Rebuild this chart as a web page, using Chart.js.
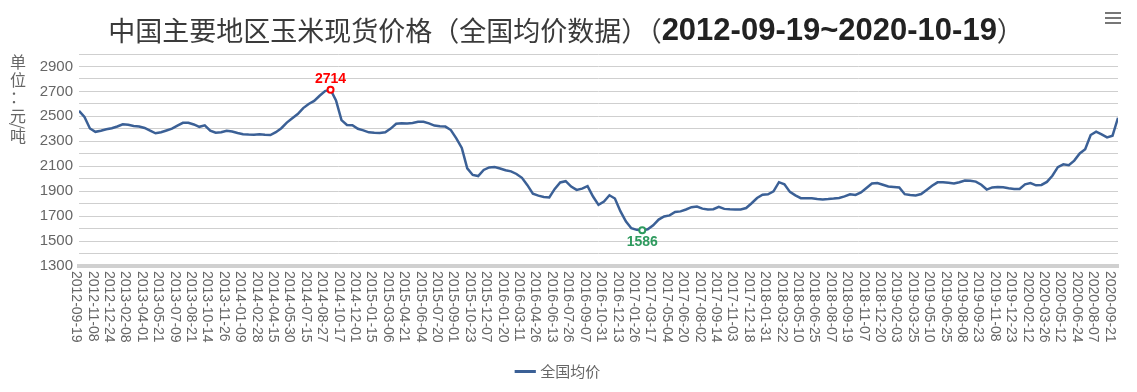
<!DOCTYPE html>
<html>
<head>
<meta charset="utf-8">
<script src="https://cdn.jsdelivr.net/npm/chart.js@4.4.1/dist/chart.umd.min.js"></script>
<style>
  html, body { margin: 0; padding: 0; background: #fff; }
  #wrap { width: 1137px; height: 392px; }
</style>
</head>
<body>
<div id="wrap"><canvas id="chart"></canvas></div>
<script>
const titleMain = '中国主要地区玉米现货价格（全国均价数据）（';
const titleDates = '2012-09-19~2020-10-19';
const titleEnd = '）';
const seriesName = '全国均价';
const yUnit = ['单', '位', '：', '元', '/', '吨'];

// one tick label every 3 samples
const pointsPerTick = 3;
const tickDates = [
  '2012-09-19', '2012-11-08', '2012-12-24', '2013-02-08', '2013-04-01', '2013-05-21',
  '2013-07-09', '2013-08-21', '2013-10-14', '2013-11-26', '2014-01-09', '2014-02-28',
  '2014-04-15', '2014-05-30', '2014-07-15', '2014-08-27', '2014-10-17', '2014-12-01',
  '2015-01-15', '2015-03-06', '2015-04-21', '2015-06-04', '2015-07-20', '2015-09-01',
  '2015-10-23', '2015-12-07', '2016-01-20', '2016-03-11', '2016-04-26', '2016-06-13',
  '2016-07-26', '2016-09-07', '2016-10-31', '2016-12-13', '2017-01-26', '2017-03-17',
  '2017-05-04', '2017-06-20', '2017-08-02', '2017-09-14', '2017-11-03', '2017-12-18',
  '2018-01-31', '2018-03-22', '2018-05-10', '2018-06-25', '2018-08-07', '2018-09-19',
  '2018-11-07', '2018-12-20', '2019-02-03', '2019-03-25', '2019-05-10', '2019-06-25',
  '2019-08-08', '2019-09-23', '2019-11-08', '2019-12-23', '2020-02-12', '2020-03-26',
  '2020-05-12', '2020-06-24', '2020-08-07', '2020-09-21'
];

const prices = [
  2545, 2495, 2403, 2376, 2385, 2396, 2405, 2419, 2436, 2432,
  2423, 2419, 2407, 2385, 2364, 2373, 2387, 2402, 2426, 2448,
  2449, 2435, 2416, 2428, 2386, 2369, 2372, 2384, 2379, 2367,
  2357, 2354, 2353, 2356, 2352, 2350, 2373, 2405, 2450, 2484,
  2518, 2566, 2599, 2624, 2665, 2702, 2714, 2627, 2470, 2431,
  2429, 2400, 2388, 2372, 2368, 2367, 2373, 2402, 2441, 2445,
  2443, 2447, 2456, 2456, 2444, 2426, 2420, 2418, 2390, 2323,
  2247, 2083, 2030, 2021, 2070, 2090, 2093, 2082, 2068, 2059,
  2038, 2007, 1948, 1880, 1864, 1854, 1850, 1918, 1970, 1980,
  1937, 1910, 1920, 1940, 1857, 1790, 1817, 1867, 1841, 1740,
  1658, 1603, 1590, 1586, 1594, 1626, 1672, 1697, 1706, 1733,
  1738, 1753, 1772, 1777, 1760, 1753, 1755, 1775, 1758, 1755,
  1754, 1754, 1765, 1803, 1845, 1871, 1875, 1898, 1972, 1955,
  1894, 1866, 1844, 1844, 1843, 1838, 1834, 1837, 1841, 1846,
  1858, 1875, 1870, 1890, 1926, 1961, 1966, 1952, 1938, 1934,
  1930, 1876, 1870, 1865, 1877, 1910, 1943, 1971, 1972, 1967,
  1962, 1972, 1985, 1984, 1977, 1952, 1913, 1930, 1934, 1931,
  1924, 1918, 1918, 1955, 1965, 1947, 1950, 1974, 2024, 2093,
  2115, 2108, 2145, 2203, 2236, 2350, 2377, 2355, 2331, 2345,
  2488
];

const yMin = 1300, yMax = 3000, yStep = 100;

const lineColor = '#3b6096';
const maxColor = '#ff0000';
const minColor = '#2e9a5e';

const maxIdx = prices.indexOf(Math.max(...prices));
const minIdx = prices.indexOf(Math.min(...prices));

Chart.defaults.font.family = '"Liberation Sans", "Noto Sans CJK SC", sans-serif';

const decor = {
  id: 'decor',
  afterDraw(chart) {
    const ctx = chart.ctx;
    const xs = chart.scales.x;
    ctx.save();

    // title, two fonts
    const f1 = '27px "Noto Sans CJK SC", sans-serif';
    const f2 = 'bold 31px "Liberation Sans", sans-serif';
    ctx.textBaseline = 'middle';
    ctx.font = f1;
    const w1 = ctx.measureText(titleMain).width;
    const w3 = ctx.measureText(titleEnd).width;
    ctx.font = f2;
    const w2 = ctx.measureText(titleDates).width;
    let tx = 566 - (w1 + w2 + w3) / 2;
    const ty = 31;
    ctx.textAlign = 'left';
    ctx.font = f1; ctx.fillStyle = '#3a3a3a';
    ctx.fillText(titleMain, tx, ty); tx += w1;
    ctx.font = f2; ctx.fillStyle = '#222';
    ctx.fillText(titleDates, tx, ty); tx += w2;
    ctx.font = f1; ctx.fillStyle = '#3a3a3a';
    ctx.fillText(titleEnd, tx, ty);

    // menu icon
    ctx.strokeStyle = '#777';
    ctx.lineWidth = 2;
    [13, 18, 23].forEach(y => {
      ctx.beginPath(); ctx.moveTo(1105, y); ctx.lineTo(1121, y); ctx.stroke();
    });

    // unit label, stacked
    ctx.fillStyle = '#666';
    ctx.font = '16px "Noto Sans CJK SC", sans-serif';
    ctx.textAlign = 'center';
    const uy = [62, 80, 97, 116, 126, 136];
    yUnit.forEach((c, i) => {
      if (c === '/') {
        ctx.save(); ctx.translate(18, uy[i]); ctx.rotate(Math.PI / 2);
        ctx.fillText(c, 0, 0); ctx.restore();
      } else {
        ctx.fillText(c, 18, uy[i]);
      }
    });

    // x tick labels, reading downward
    ctx.font = '14px "Liberation Sans", sans-serif';
    ctx.textAlign = 'left';
    ctx.fillStyle = '#666';
    tickDates.forEach((d, k) => {
      const x = xs.getPixelForValue(k * pointsPerTick) - 3;
      ctx.save();
      ctx.translate(x, 271);
      ctx.rotate(Math.PI / 2);
      ctx.fillText(d, 0, 0);
      ctx.restore();
    });

    // max / min labels
    const pts = chart.getDatasetMeta(0).data;
    ctx.font = 'bold 14px "Liberation Sans", sans-serif';
    ctx.textAlign = 'center';
    ctx.fillStyle = maxColor;
    ctx.fillText(String(prices[maxIdx]), pts[maxIdx].x, pts[maxIdx].y - 11);
    ctx.fillStyle = minColor;
    ctx.fillText(String(prices[minIdx]), pts[minIdx].x, pts[minIdx].y + 12);

    ctx.restore();
  }
};

new Chart(document.getElementById('chart'), {
  type: 'line',
  data: {
    datasets: [{
      label: seriesName,
      data: prices.map((v, i) => ({ x: i, y: v })),
      borderColor: lineColor,
      backgroundColor: lineColor,
      borderWidth: 2.5,
      tension: 0,
      fill: false,
      pointRadius: c => (c.dataIndex === maxIdx || c.dataIndex === minIdx) ? 3 : 0,
      pointHoverRadius: 0,
      pointBorderWidth: 2,
      pointBorderColor: c => c.dataIndex === maxIdx ? maxColor : (c.dataIndex === minIdx ? minColor : lineColor),
      pointBackgroundColor: '#fff'
    }]
  },
  options: {
    responsive: true,
    maintainAspectRatio: false,
    animation: false,
    layout: { padding: { left: 0, right: 19, top: 54, bottom: 3 } },
    plugins: {
      title: { display: false },
      tooltip: { enabled: false },
      legend: {
        position: 'bottom',
        labels: {
          usePointStyle: true,
          pointStyle: 'line',
          color: '#666',
          font: { size: 15, family: '"Noto Sans CJK SC", sans-serif' },
          padding: 10,
          generateLabels: chart => [{
            text: seriesName,
            strokeStyle: lineColor,
            fillStyle: lineColor,
            lineWidth: 3,
            pointStyle: 'line',
            fontColor: '#666',
            datasetIndex: 0,
            hidden: false
          }]
        }
      }
    },
    scales: {
      x: {
        type: 'linear',
        min: 0,
        max: prices.length - 1,
        ticks: { display: false },
        grid: { display: false },
        border: { display: true, color: '#d0d0d0', width: 4 },
        afterFit: s => { s.height = 88; }
      },
      y: {
        min: yMin,
        max: yMax,
        ticks: {
          stepSize: yStep,
          autoSkip: false,
          color: '#666',
          font: { size: 15 },
          padding: 6,
          callback: v => (v % 200 === 100 ? v : '')
        },
        grid: { color: '#cfcfcf', lineWidth: 1, drawTicks: false },
        border: { display: false },
        afterFit: s => { s.width = 79; }
      }
    }
  },
  plugins: [decor]
});
</script>
</body>
</html>
